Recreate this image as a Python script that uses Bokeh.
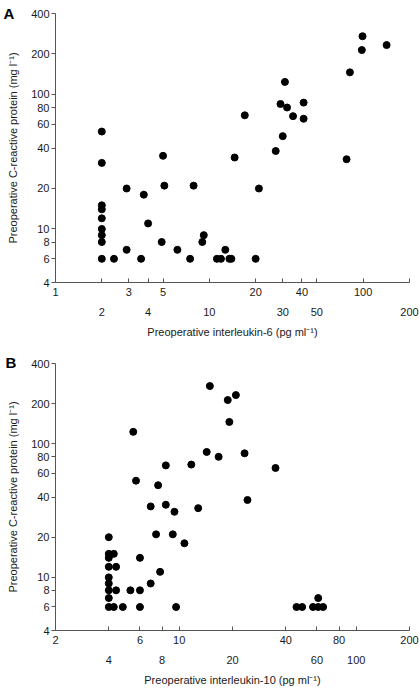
from bokeh.plotting import figure
from bokeh.layouts import column
from bokeh.models import LogAxis, FixedTicker, Range1d, CustomJSTickFormatter
from bokeh.embed import file_html
from bokeh.resources import INLINE

# ---------------- data ----------------
# Panel A: IL-6 vs CRP
a_il6 = [2, 2, 5.0, 14.6, 17, 27, 29, 30, 31, 32, 35, 41, 41, 78, 82, 98, 99, 142,
         2.9, 3.75, 5.1, 7.9, 21,
         2, 2, 2, 2, 2, 2, 2,
         2.4, 4.0, 2.9, 3.6, 4.9, 6.2, 7.5, 9.0, 9.2, 11.2, 11.9, 12.7, 13.5, 13.9, 20]
a_crp = [53, 31, 35, 34, 70, 38, 85, 49, 124, 80, 69, 87, 66, 33, 146, 214, 271, 233,
         20, 18, 21, 21, 20,
         15, 14, 12, 10, 9, 8, 6,
         6, 11, 7, 6, 8, 7, 6, 8, 9, 6, 6, 7, 6, 6, 6]

# Panel B: IL-10 vs CRP
b_il10 = [5.5, 5.7, 6.9, 7.6, 8.4, 8.4, 9.4, 11.7, 12.8, 14.3, 14.9, 16.7, 18.8, 19.2, 20.9, 23.4, 24.3, 35,
          7.4, 9.2, 10.7, 4, 4, 4.27, 4, 6, 4, 4.4, 7.8, 4, 4, 6.9, 4, 4.4, 5.3, 6, 4,
          4, 4.27, 4.8, 6, 9.6, 46, 49.5, 57, 61, 61, 65]
b_crp = [123, 53, 34, 49, 69, 35, 31, 70, 33, 87, 271, 80, 213, 146, 232, 85, 38, 66,
         21, 21, 18, 20, 15, 15, 14, 14, 12, 12, 11, 10, 9, 9, 8, 8, 8, 8, 7,
         6, 6, 6, 6, 6, 6, 6, 6, 7, 6, 6]

y_ticks = [4, 6, 8, 10, 20, 40, 60, 80, 100, 200, 400]
a_x_row1 = [1, 3, 5, 20, 40, 100]
a_x_row2 = [2, 4, 10, 30, 50, 200]
b_x_row1 = [2, 6, 10, 40, 80, 200]
b_x_row2 = [4, 8, 20, 60, 100]

y_title = "Preoperative C-reactive protein (mg l\u207b\u00b9)"
a_x_title = "Preoperative interleukin-6 (pg ml\u207b\u00b9)"
b_x_title = "Preoperative interleukin-10 (pg ml\u207b\u00b9)"

FONT = "Liberation Sans"
AXCOL = "#555555"
TXTCOL = "#1a1a1a"
W = 420
LEFT, RIGHT = 55, 11


def make_panel(xs, ys, xr, row1, row2, xtitle, letter, height, top, bottom, letter_dx, letter_sd):
    p = figure(width=W, height=height, x_axis_type="log", y_axis_type="log",
               x_range=Range1d(*xr), y_range=Range1d(4, 400),
               title=letter,
               output_backend="svg", toolbar_location=None,
               min_border_left=LEFT, min_border_right=RIGHT,
               min_border_top=top, min_border_bottom=bottom)
    p.outline_line_color = None
    p.xgrid.visible = False
    p.ygrid.visible = False

    # panel letter as the figure title, pushed left of the frame
    p.title.align = "left"
    p.title.offset = -letter_dx
    p.title.standoff = letter_sd
    p.title.text_font = FONT
    p.title.text_font_size = "15px"
    p.title.text_font_style = "bold"
    p.title.text_color = "black"

    p.scatter(xs, ys, size=7, color="black")

    # y axis
    ya = p.yaxis[0]
    ya.ticker = FixedTicker(ticks=y_ticks)
    ya.formatter = CustomJSTickFormatter(code="return String(Math.round(tick));")
    ya.minor_tick_line_color = None
    ya.major_tick_out = 4
    ya.major_tick_in = 0
    ya.major_label_standoff = 2
    ya.axis_line_color = AXCOL
    ya.major_tick_line_color = AXCOL
    ya.major_label_text_font = FONT
    ya.major_label_text_font_size = "11px"
    ya.major_label_text_color = TXTCOL
    ya.axis_label = y_title
    ya.axis_label_text_font = FONT
    ya.axis_label_text_font_size = "11px"
    ya.axis_label_text_font_style = "normal"
    ya.axis_label_text_color = TXTCOL
    ya.axis_label_standoff = 9

    # x axis: line, all ticks, first row of labels
    xa = p.xaxis[0]
    xa.ticker = FixedTicker(ticks=sorted(row1 + row2))
    xa.formatter = CustomJSTickFormatter(
        args=dict(show=row1),
        code="const t = Math.round(tick); return show.includes(t) ? String(t) : '';")
    xa.minor_tick_line_color = None
    xa.major_tick_in = 4
    xa.major_tick_out = 0
    xa.major_label_standoff = 5
    xa.axis_line_color = AXCOL
    xa.major_tick_line_color = AXCOL
    xa.major_label_text_font = FONT
    xa.major_label_text_font_size = "11px"
    xa.major_label_text_color = TXTCOL

    # second row of labels (staggered)
    xb = LogAxis(ticker=FixedTicker(ticks=row2),
                 formatter=CustomJSTickFormatter(code="return String(Math.round(tick));"))
    xb.axis_line_color = None
    xb.major_tick_line_color = None
    xb.minor_tick_line_color = None
    xb.major_tick_out = 0
    xb.major_tick_in = 0
    xb.major_label_standoff = 9
    xb.major_label_text_font = FONT
    xb.major_label_text_font_size = "11px"
    xb.major_label_text_color = TXTCOL
    xb.axis_label = xtitle
    xb.axis_label_text_font = FONT
    xb.axis_label_text_font_size = "11px"
    xb.axis_label_text_font_style = "normal"
    xb.axis_label_text_color = TXTCOL
    xb.axis_label_standoff = 7
    p.add_layout(xb, "below")
    return p


pA = make_panel(a_il6, a_crp, (1, 200), a_x_row1, a_x_row2, a_x_title, "A", 340, 13, 57, 52, -16)
pB = make_panel(b_il10, b_crp, (2, 200), b_x_row1, b_x_row2, b_x_title, "B", 348, 23, 56, 50, -15)

layout = column(pA, pB, spacing=0)
open("out.html", "w").write(file_html(layout, INLINE))
